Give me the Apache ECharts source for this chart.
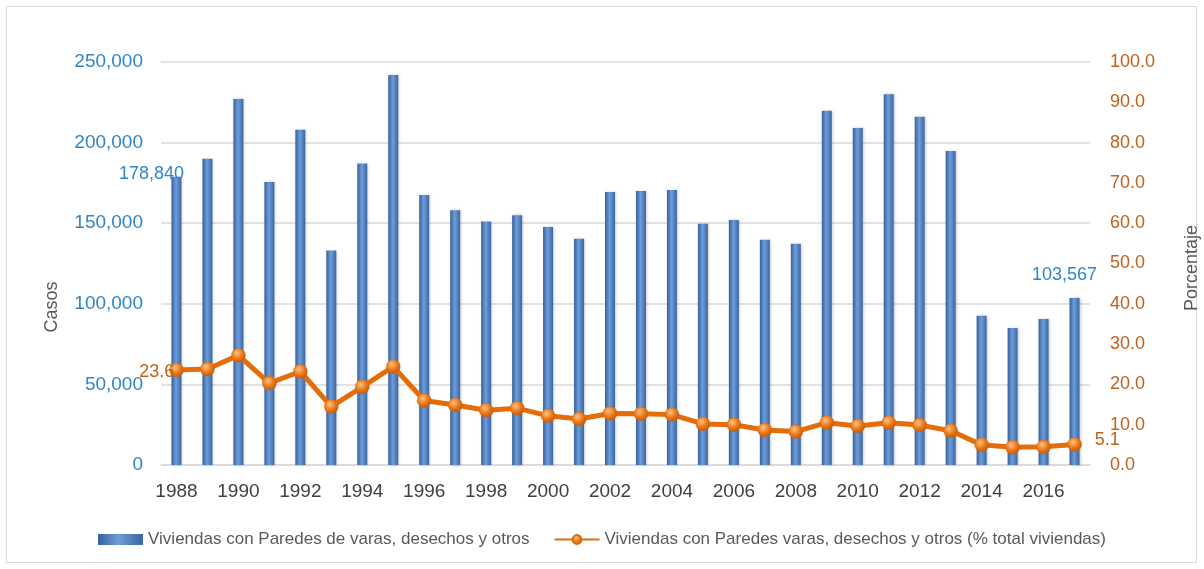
<!DOCTYPE html>
<html>
<head>
<meta charset="utf-8">
<script src="https://cdn.jsdelivr.net/npm/echarts@6/dist/echarts.min.js"></script>
<style>
  html, body { margin: 0; padding: 0; background: #fff; }
  #chart { width: 1204px; height: 569px; }
</style>
</head>
<body>
<div id="chart"></div>
<script>
const years = ['1988', '1989', '1990', '1991', '1992', '1993', '1994', '1995', '1996', '1997',
  '1998', '1999', '2000', '2001', '2002', '2003', '2004', '2005', '2006', '2007',
  '2008', '2009', '2010', '2011', '2012', '2013', '2014', '2015', '2016', '2017']

// number of dwellings (left axis)
const casos = [178840, 190000, 227000, 175500, 208000, 133000, 187000, 242000, 167500, 158000,
  151000, 155000, 147600, 140400, 169400, 170000, 170600, 149700, 152000, 139800,
  137300, 219800, 209000, 230000, 216000, 194800, 92600, 85000, 90600, 103567]

// percent of all dwellings (right axis)
const porcentaje = [23.6, 23.8, 27.2, 20.3, 23.2, 14.5, 19.4, 24.4, 16.0, 14.9,
  13.6, 14.1, 12.2, 11.4, 12.8, 12.7, 12.5, 10.2, 10.0, 8.7,
  8.3, 10.5, 9.7, 10.5, 9.9, 8.5, 5.0, 4.4, 4.5, 5.1]

const barName = 'Viviendas con Paredes de varas, desechos y otros'
const lineName = 'Viviendas con Paredes varas, desechos y otros (% total viviendas)'

const font = '"Liberation Sans", Arial, sans-serif'
const blue = '#2E86C9'
const brown = '#C0601A'
const last = years.length - 1

const fmt = (v) => v.toString().replace(/\B(?=(\d{3})+(?!\d))/g, ',')

const barGradient = new echarts.graphic.LinearGradient(0, 0, 1, 0, [
  { offset: 0, color: '#36609A' },
  { offset: 0.45, color: '#6D9DDB' },
  { offset: 1, color: '#3B66A3' }
])
const dotGradient = new echarts.graphic.RadialGradient(0.4, 0.35, 0.7, [
  { offset: 0, color: '#FDC28A' },
  { offset: 0.5, color: '#EE7D1C' },
  { offset: 1, color: '#B65406' }
])

const barData = casos.map((v, i) => {
  if (i === 0) return { value: v, label: { show: true, offset: [-25, 11] } }
  if (i === last) return { value: v, label: { show: true, offset: [-10, -9] } }
  return v
})
const lineData = porcentaje.map((v, i) => {
  if (i === 0) return { value: v, label: { show: true, position: 'left', distance: 0, offset: [5, 2] } }
  if (i === last) return { value: v, label: { show: true, position: 'right', offset: [8, -4] } }
  return v
})

const chart = echarts.init(document.getElementById('chart'))
chart.setOption({
  animation: false,
  textStyle: { fontFamily: font },
  grid: { left: 161, right: 114, top: 62, bottom: 104 },
  legend: {
    bottom: 16,
    left: 'center',
    itemGap: 24,
    itemWidth: 45,
    itemHeight: 11,
    textStyle: { color: '#595959', fontSize: 17, fontFamily: font },
    data: [
      { name: barName, icon: 'rect' },
      { name: lineName }
    ]
  },
  xAxis: {
    type: 'category',
    data: years,
    axisTick: { show: false },
    axisLine: { lineStyle: { color: '#D9D9D9', width: 1.5 } },
    axisLabel: { interval: 1, color: '#404040', fontSize: 19, margin: 17 }
  },
  yAxis: [
    {
      type: 'value',
      min: 0,
      max: 250000,
      interval: 50000,
      axisLabel: { color: blue, fontSize: 19, margin: 18, formatter: fmt },
      splitLine: { lineStyle: { color: '#D9D9D9', width: 1.5 } }
    },
    {
      type: 'value',
      min: 0,
      max: 100,
      interval: 10,
      axisLabel: { color: brown, fontSize: 18, margin: 20, formatter: (v) => v.toFixed(1) },
      splitLine: { show: false }
    }
  ],
  graphic: [
    {
      type: 'rect',
      shape: { x: 6.5, y: 6.5, width: 1190, height: 556 },
      style: { fill: 'none', stroke: '#D9D9D9', lineWidth: 1 },
      silent: true
    },
    {
      type: 'text',
      x: 52, y: 307, rotation: Math.PI / 2,
      style: { text: 'Casos', fill: '#595959', fontSize: 18, fontFamily: font, align: 'center', verticalAlign: 'middle' }
    },
    {
      type: 'text',
      x: 1192, y: 268, rotation: Math.PI / 2,
      style: { text: 'Porcentaje', fill: '#595959', fontSize: 18, fontFamily: font, align: 'center', verticalAlign: 'middle' }
    }
  ],
  series: [
    {
      name: barName,
      type: 'bar',
      data: barData,
      barWidth: 10,
      itemStyle: {
        color: barGradient,
        shadowColor: 'rgba(0,0,0,0.25)',
        shadowBlur: 3,
        shadowOffsetX: 1
      },
      label: {
        show: false,
        position: 'top',
        color: blue,
        fontSize: 18,
        formatter: (p) => fmt(p.value)
      }
    },
    {
      name: lineName,
      type: 'line',
      yAxisIndex: 1,
      data: lineData,
      z: 5,
      symbol: 'circle',
      symbolSize: 14,
      lineStyle: { color: '#E46C0A', width: 5 },
      itemStyle: { color: dotGradient, borderColor: '#D46A10', borderWidth: 0.5 },
      label: {
        show: false,
        color: brown,
        fontSize: 18,
        formatter: (p) => p.value.toFixed(1)
      }
    }
  ]
})
</script>
</body>
</html>
